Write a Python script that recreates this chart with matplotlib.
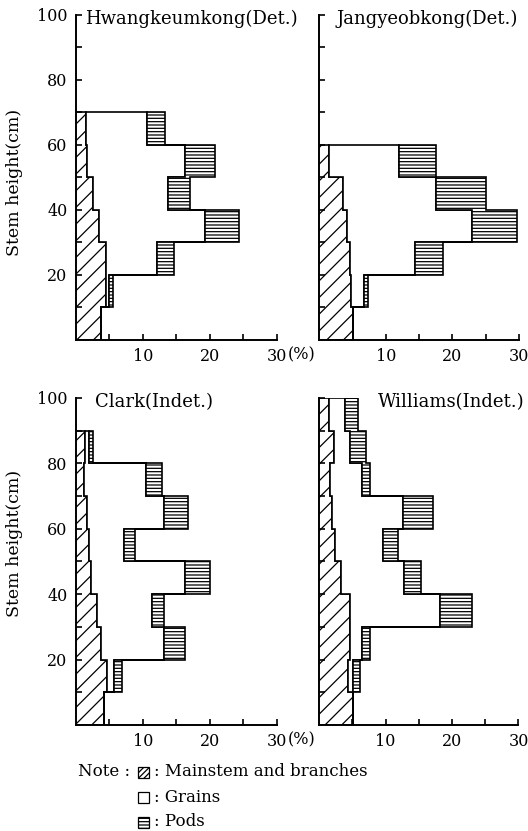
import numpy as np
import matplotlib
matplotlib.use('Agg')
import matplotlib.pyplot as plt
from matplotlib.patches import Rectangle

plt.rcParams['font.family'] = 'DejaVu Serif'
plt.rcParams['hatch.linewidth'] = 0.9

# stem height bins (cm), 10 cm each
height_edges = np.arange(0, 101, 10)

titles = ['Hwangkeumkong(Det.)', 'Jangyeobkong(Det.)',
          'Clark(Indet.)', 'Williams(Indet.)']

# dry matter distribution (%) per 10 cm layer, from the ground up
hwang_main = [3.8, 4.5, 4.5, 3.5, 2.5, 1.7, 1.5]
hwang_grain = [0.0, 0.4, 7.6, 15.8, 11.3, 14.6, 9.1]
hwang_pod = [0.0, 0.6, 2.6, 5.0, 3.2, 4.5, 2.7]

jang_main = [5.0, 4.7, 4.6, 4.2, 3.5, 1.5]
jang_grain = [0.0, 2.0, 9.8, 18.7, 14.1, 10.5]
jang_pod = [0.0, 0.6, 4.2, 6.8, 7.4, 5.6]

clark_main = [4.2, 4.7, 3.8, 3.1, 2.3, 2.0, 1.7, 1.2, 1.3]
clark_grain = [0.0, 1.0, 9.4, 8.2, 14.0, 5.1, 11.5, 9.3, 0.7]
clark_pod = [0.0, 1.1, 3.1, 1.9, 3.7, 1.7, 3.5, 2.4, 0.6]

will_main = [5.1, 4.4, 4.6, 4.7, 3.3, 2.4, 1.9, 1.7, 2.2, 1.5]
will_grain = [0.0, 0.7, 1.8, 13.5, 9.5, 7.2, 10.8, 4.7, 2.5, 2.4]
will_pod = [0.0, 1.0, 1.2, 4.8, 2.6, 2.3, 4.4, 1.3, 2.4, 2.0]


def draw_panel(ax, main, grain, pod, title, left, title_x):
    main = np.asarray(main)
    g_end = main + np.asarray(grain)
    p_end = g_end + np.asarray(pod)
    e = height_edges[:len(main) + 1]

    kw = dict(orientation='horizontal', fill=True, edgecolor='black',
              linewidth=1.2, facecolor='white')
    ax.stairs(main, e, baseline=0, hatch='//', **kw)
    ax.stairs(g_end, e, baseline=main, **kw)
    ax.stairs(p_end, e, baseline=g_end, hatch='-----', **kw)

    ax.set_xlim(0, 30)
    ax.set_ylim(0, 100)
    ax.spines[['top', 'right']].set_visible(False)
    ax.spines[['left', 'bottom']].set_linewidth(1.4)
    ax.set_xticks([10, 20, 30])
    ax.set_xticks([5, 15, 25], minor=True)
    ax.set_yticks([20, 40, 60, 80, 100])
    ax.set_yticks([10, 30, 50, 70, 90], minor=True)
    ax.tick_params(which='both', direction='in', length=4, width=1.2,
                   labelsize=11.5, pad=6)
    if left:
        ax.annotate('(%)', xy=(30, 0), xycoords=('data', 'axes fraction'),
                    xytext=(7.5, -4.5), textcoords='offset points',
                    ha='left', va='top', fontsize=11.5)
    else:
        ax.set_yticklabels([])
    ax.text(title_x, 0.988, title, transform=ax.transAxes,
            fontsize=13, va='center', ha='left')


fig = plt.figure(figsize=(5.28, 8.31), dpi=100)
ax1 = fig.add_axes([0.1436, 0.5909, 0.381, 0.3911])
ax2 = fig.add_axes([0.605, 0.5909, 0.3778, 0.3911])
ax3 = fig.add_axes([0.1439, 0.1276, 0.3807, 0.3935])
ax4 = fig.add_axes([0.6042, 0.1276, 0.3778, 0.3935])

draw_panel(ax1, hwang_main, hwang_grain, hwang_pod, titles[0], True, 0.046)
draw_panel(ax2, jang_main, jang_grain, jang_pod, titles[1], False, 0.088)
draw_panel(ax3, clark_main, clark_grain, clark_pod, titles[2], True, 0.095)
draw_panel(ax4, will_main, will_grain, will_pod, titles[3], False, 0.295)

# y labels
fig.text(15 / 528, 1 - 182 / 831, 'Stem height(cm)', rotation=90,
         ha='center', va='center', fontsize=12.5)
fig.text(15 / 528, 1 - 543 / 831, 'Stem height(cm)', rotation=90,
         ha='center', va='center', fontsize=12.5)

# note / legend
W, H = 528, 831
fig.text(78 / W, 1 - 772 / H, 'Note :', va='center', fontsize=12)
note_rows = [(772, '//////', ': Mainstem and branches'),
             (797, None, ': Grains'),
             (822, '-----', ': Pods')]
for yc, hatch, label in note_rows:
    fig.add_artist(Rectangle((138 / W, 1 - (yc + 6) / H), 11 / W, 11 / H,
                             transform=fig.transFigure, facecolor='white',
                             edgecolor='black', linewidth=0.9, hatch=hatch))
    fig.text(154 / W, 1 - yc / H, label, va='center', fontsize=12)

fig.savefig('out.png', dpi=100)
